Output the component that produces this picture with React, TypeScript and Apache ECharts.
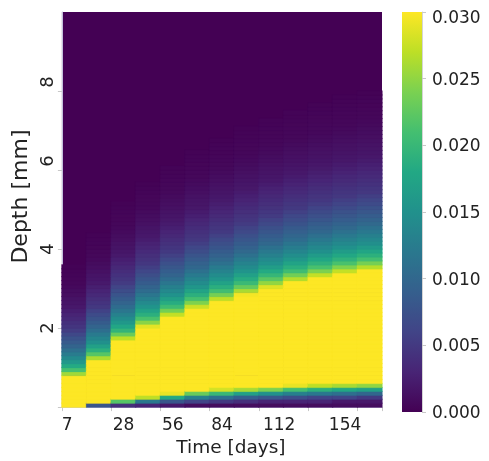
import { useEffect, useRef } from "react";
import * as echarts from "echarts";

// Time categories (one heatmap column each)
const TIME_DAYS = ["7", "14", "28", "42", "56", "70", "84", "98", "112", "126", "140", "154", "168"];
const TIME_LABELS_SHOWN = ["7", "28", "56", "84", "112", "154"];
const DEPTH_TICKS = [2, 4, 6, 8];
const DEPTH_TICK_MARKS = [0, 2, 4, 6, 8];
const DEPTH_STEP_MM = 0.1;
const DEPTH_ROW_COUNT = 100; // 0 .. 10 mm
const CONC_MIN = 0;
const CONC_MAX = 0.03;
const CONC_TICK_STEP = 0.005;

// Concentration profiles per time column, from depth 0 upward in 0.1 mm rows.
// Rows above the listed ones are at the zero colour.
const C_D7 = [
  0.03, 0.03, 0.03, 0.03, 0.03, 0.03, 0.03, 0.03,
  0.0257, 0.0211, 0.0182, 0.0159, 0.0141, 0.0125, 0.011, 0.0096, 0.0085, 0.0075,
  0.0064, 0.0053, 0.0046, 0.0041, 0.0035, 0.003, 0.0025, 0.002, 0.0017, 0.0015,
  0.0012, 0.001, 0.0007, 0.00055, 0.00046, 0.00037, 0.00028, 0.00019,
];
const C_D14 = [
  0.008,
  0.03, 0.03, 0.03, 0.03, 0.03, 0.03, 0.03, 0.03, 0.03, 0.03, 0.03,
  0.0262, 0.022, 0.019, 0.0169, 0.0149, 0.0136, 0.0122, 0.0108, 0.0096, 0.0087,
  0.0077, 0.0068, 0.0058, 0.0049, 0.00445, 0.004, 0.0035, 0.003, 0.00255, 0.00207,
  0.0018, 0.0016, 0.00137, 0.00115, 0.00092, 0.0007, 0.00056, 0.00048, 0.0004,
  0.00032, 0.00024, 0.00016,
];
const C_D28 = [
  0.004, 0.022,
  0.03, 0.03, 0.03, 0.03, 0.03, 0.03, 0.03, 0.03, 0.03, 0.03, 0.03, 0.03, 0.03, 0.03, 0.03,
  0.027, 0.023, 0.0196, 0.0177, 0.0159, 0.0144, 0.0131, 0.0118, 0.0106, 0.0096,
  0.0087, 0.0078, 0.007, 0.0061, 0.0052, 0.0047, 0.00425, 0.0038, 0.0034, 0.00295,
  0.0025, 0.00207, 0.00183, 0.00162, 0.00142, 0.00122, 0.001, 0.0008, 0.0006,
  0.00053, 0.00046, 0.00039, 0.00032, 0.00025, 0.00017,
];
const C_D42 = [
  0.003, 0.012, 0.027,
  0.03, 0.03, 0.03, 0.03, 0.03, 0.03, 0.03, 0.03, 0.03, 0.03, 0.03, 0.03, 0.03, 0.03, 0.03, 0.03, 0.03,
  0.0288, 0.0247, 0.0212, 0.0189, 0.0172, 0.0154, 0.0141, 0.0129, 0.0117, 0.0105,
  0.0096, 0.0087, 0.0079, 0.0071, 0.0063, 0.0055, 0.0048, 0.0044, 0.004, 0.0036,
  0.0032, 0.0028, 0.00235, 0.00198, 0.00179, 0.0016, 0.0014, 0.0012, 0.00102,
  0.00083, 0.00064, 0.00055, 0.00048, 0.00041, 0.00034, 0.00027, 0.0002,
];
const C_D56 = [
  0.002, 0.008, 0.018, 0.029,
  0.03, 0.03, 0.03, 0.03, 0.03, 0.03, 0.03, 0.03, 0.03, 0.03, 0.03, 0.03, 0.03, 0.03, 0.03, 0.03, 0.03, 0.03, 0.03,
  0.0273, 0.0236, 0.0205, 0.0185, 0.0168, 0.0151, 0.014, 0.0129, 0.0117, 0.0106,
  0.0096, 0.0089, 0.0081, 0.0073, 0.0065, 0.0057, 0.005, 0.0046, 0.0042, 0.0038,
  0.0034, 0.003, 0.0026, 0.00225, 0.00193, 0.00175, 0.00156, 0.00138, 0.0012,
  0.00102, 0.00083, 0.00065, 0.00056, 0.00049, 0.00042, 0.00036, 0.0003, 0.00023,
];
const C_D70 = [
  0.001, 0.006, 0.013, 0.023,
  0.03, 0.03, 0.03, 0.03, 0.03, 0.03, 0.03, 0.03, 0.03, 0.03, 0.03, 0.03, 0.03, 0.03, 0.03, 0.03, 0.03, 0.03, 0.03, 0.03, 0.03,
  0.0277, 0.0242, 0.021, 0.0189, 0.0173, 0.0156, 0.0144, 0.0133, 0.0122, 0.0111,
  0.01, 0.0093, 0.0085, 0.0078, 0.007, 0.0063, 0.0055, 0.0049, 0.0045, 0.0041,
  0.00375, 0.0034, 0.003, 0.0026, 0.00225, 0.00195, 0.00177, 0.0016, 0.00142,
  0.00124, 0.00107, 0.00089, 0.00072, 0.00058, 0.00052, 0.00045, 0.00039, 0.00033,
  0.00027, 0.0002,
];
const C_D84 = [
  0.001, 0.005, 0.011, 0.02, 0.028,
  0.03, 0.03, 0.03, 0.03, 0.03, 0.03, 0.03, 0.03, 0.03, 0.03, 0.03, 0.03, 0.03, 0.03, 0.03, 0.03, 0.03, 0.03, 0.03, 0.03, 0.03, 0.03,
  0.0271, 0.0237, 0.0207, 0.0188, 0.0172, 0.0155, 0.0144, 0.0133, 0.0123, 0.0112,
  0.0102, 0.0094, 0.0087, 0.0079, 0.0072, 0.0065, 0.0057, 0.005, 0.00465, 0.0043,
  0.0039, 0.00355, 0.0032, 0.0028, 0.00245, 0.0021, 0.00187, 0.0017, 0.00153,
  0.00136, 0.00119, 0.00102, 0.00085, 0.00068, 0.00057, 0.00051, 0.00044, 0.00038,
  0.00032, 0.00026, 0.0002,
];
const C_D98 = [
  0.001, 0.004, 0.009, 0.017, 0.026,
  0.03, 0.03, 0.03, 0.03, 0.03, 0.03, 0.03, 0.03, 0.03, 0.03, 0.03, 0.03, 0.03, 0.03, 0.03, 0.03, 0.03, 0.03, 0.03, 0.03, 0.03, 0.03, 0.03,
  0.0296, 0.0261, 0.0229, 0.0202, 0.0185, 0.0169, 0.0154, 0.0143, 0.0133, 0.0122,
  0.0112, 0.0102, 0.0094, 0.0087, 0.008, 0.0073, 0.0066, 0.0059, 0.0052, 0.0047,
  0.0044, 0.004, 0.0037, 0.0033, 0.00295, 0.0026, 0.00225, 0.00195, 0.00178,
  0.00162, 0.00145, 0.00129, 0.00112, 0.00095, 0.00079, 0.00063, 0.00055, 0.00049,
  0.00043, 0.00037, 0.00031, 0.00026, 0.0002,
];
const C_D112 = [
  0.001, 0.003, 0.008, 0.015, 0.024,
  0.03, 0.03, 0.03, 0.03, 0.03, 0.03, 0.03, 0.03, 0.03, 0.03, 0.03, 0.03, 0.03, 0.03, 0.03, 0.03, 0.03, 0.03, 0.03, 0.03, 0.03, 0.03, 0.03, 0.03, 0.03,
  0.0286, 0.0251, 0.0222, 0.0198, 0.0182, 0.0166, 0.0151, 0.0141, 0.0131, 0.0121,
  0.0111, 0.0101, 0.0094, 0.0087, 0.008, 0.0073, 0.0066, 0.0059, 0.0052, 0.00475,
  0.0044, 0.00405, 0.0037, 0.0034, 0.003, 0.0027, 0.00235, 0.002, 0.00184,
  0.00167, 0.0015, 0.00134, 0.00119, 0.00103, 0.00086, 0.0007, 0.00058, 0.00052,
  0.00046, 0.0004, 0.00035, 0.00029, 0.00023,
];
const C_D126 = [
  0.001, 0.003, 0.007, 0.013, 0.021, 0.029,
  0.03, 0.03, 0.03, 0.03, 0.03, 0.03, 0.03, 0.03, 0.03, 0.03, 0.03, 0.03, 0.03, 0.03, 0.03, 0.03, 0.03, 0.03, 0.03, 0.03, 0.03, 0.03, 0.03, 0.03, 0.03, 0.03,
  0.0266, 0.0235, 0.0206, 0.0188, 0.0173, 0.0158, 0.0146, 0.0136, 0.0126, 0.0116,
  0.0106, 0.0098, 0.0091, 0.0084, 0.0077, 0.007, 0.0064, 0.0057, 0.005, 0.00465,
  0.0043, 0.00395, 0.0036, 0.0033, 0.00295, 0.0026, 0.00225, 0.00196, 0.0018,
  0.00164, 0.00148, 0.00132, 0.00116, 0.001, 0.00084, 0.00068, 0.00057, 0.00051,
  0.00045, 0.0004, 0.00034, 0.00029, 0.00023,
];
const C_D140 = [
  0.001, 0.003, 0.006, 0.012, 0.019, 0.027,
  0.03, 0.03, 0.03, 0.03, 0.03, 0.03, 0.03, 0.03, 0.03, 0.03, 0.03, 0.03, 0.03, 0.03, 0.03, 0.03, 0.03, 0.03, 0.03, 0.03, 0.03, 0.03, 0.03, 0.03, 0.03, 0.03, 0.03,
  0.0273, 0.0241, 0.0212, 0.0192, 0.0178, 0.0163, 0.0149, 0.0139, 0.013, 0.012,
  0.011, 0.01, 0.0094, 0.0087, 0.008, 0.0073, 0.00665, 0.006, 0.0053, 0.0048,
  0.0045, 0.0041, 0.0038, 0.00345, 0.0031, 0.0028, 0.00245, 0.0021, 0.0019,
  0.00174, 0.00158, 0.00142, 0.00126, 0.0011, 0.00095, 0.00079, 0.00063, 0.00056,
  0.0005, 0.00044, 0.00039, 0.00033, 0.00028, 0.00022,
];
const C_D154 = [
  0.001, 0.002, 0.006, 0.011, 0.018, 0.026,
  0.03, 0.03, 0.03, 0.03, 0.03, 0.03, 0.03, 0.03, 0.03, 0.03, 0.03, 0.03, 0.03, 0.03, 0.03, 0.03, 0.03, 0.03, 0.03, 0.03, 0.03, 0.03, 0.03, 0.03, 0.03, 0.03, 0.03, 0.03,
  0.0273, 0.0242, 0.0213, 0.0192, 0.0179, 0.0164, 0.015, 0.014, 0.0131, 0.0121,
  0.0111, 0.0102, 0.0095, 0.0088, 0.0081, 0.0075, 0.0068, 0.0061, 0.0055, 0.0049,
  0.00455, 0.00425, 0.0039, 0.00355, 0.00325, 0.0029, 0.00255, 0.00225, 0.00195,
  0.0018, 0.00165, 0.00148, 0.00133, 0.00118, 0.00102, 0.00086, 0.00071, 0.00058,
  0.00053, 0.00047, 0.00042, 0.00036, 0.00031, 0.00025, 0.0002,
];
const C_D168 = [
  0.001, 0.002, 0.005, 0.01, 0.017, 0.025,
  0.03, 0.03, 0.03, 0.03, 0.03, 0.03, 0.03, 0.03, 0.03, 0.03, 0.03, 0.03, 0.03, 0.03, 0.03, 0.03, 0.03, 0.03, 0.03, 0.03, 0.03, 0.03, 0.03, 0.03, 0.03, 0.03, 0.03, 0.03, 0.03,
  0.0267, 0.0237, 0.0209, 0.019, 0.0176, 0.0162, 0.0148, 0.0139, 0.013, 0.012,
  0.0111, 0.0102, 0.0095, 0.0088, 0.0081, 0.0075, 0.0068, 0.0062, 0.0055, 0.0049,
  0.0046, 0.00425, 0.00395, 0.0036, 0.0033, 0.00295, 0.0026, 0.0023, 0.002,
  0.00183, 0.00168, 0.00152, 0.00137, 0.00121, 0.00106, 0.0009, 0.00075, 0.0006,
  0.00055, 0.00049, 0.00043, 0.00038, 0.00033, 0.00027, 0.00021,
];

const PROFILES = [
  C_D7, C_D14, C_D28, C_D42, C_D56, C_D70, C_D84,
  C_D98, C_D112, C_D126, C_D140, C_D154, C_D168,
];

const VIRIDIS = [
  "#440154", "#482475", "#414487", "#355f8d", "#2a788e", "#21918c",
  "#22a884", "#44bf70", "#7ad151", "#bddf26", "#fde725",
];

const FONT = "DejaVu Sans";
const TEXT = "#222222";
const AXIS_LINE = "#c4c0dc";
const TICK = "#c8c8c8";

export default function App() {
  const ref = useRef<HTMLDivElement>(null);

  useEffect(() => {
    if (!ref.current) return;
    const chart = echarts.init(ref.current, null, { renderer: "svg" });

    const depthRows = Array.from({ length: DEPTH_ROW_COUNT }, (_, i) =>
      ((i + 0.5) * DEPTH_STEP_MM).toFixed(2)
    );
    const heatData: number[][] = [];
    PROFILES.forEach((col, x) => {
      col.forEach((v, y) => heatData.push([x, y, v]));
    });

    const labelFont = { fontSize: 17, color: TEXT, fontFamily: FONT };

    const option: any = {
      animation: false,
      textStyle: { fontFamily: FONT },
      grid: [
        {
          left: 57, top: 12, width: 325, height: 400,
          show: true, backgroundColor: VIRIDIS[0], borderWidth: 0,
        },
        { left: 402, top: 12, width: 20, height: 400 },
      ],
      xAxis: [
        {
          type: "category",
          gridIndex: 0,
          data: TIME_DAYS,
          name: "Time [days]",
          nameLocation: "middle",
          nameGap: 25,
          nameTextStyle: { fontSize: 18.5, color: TEXT, fontFamily: FONT, padding: [0, 0, 0, 18] },
          axisLine: { show: true, lineStyle: { color: AXIS_LINE } },
          axisTick: { show: true, interval: 1, length: 4, lineStyle: { color: TICK } },
          axisLabel: {
            interval: (_i: number, v: string) => TIME_LABELS_SHOWN.includes(v),
            formatter: (v: string) => (v === "7" ? "{l|7}" : v === "112" ? "{r|112}" : v),
            rich: {
              l: { ...labelFont, padding: [0, 14, 0, 0] },
              r: { ...labelFont, padding: [0, 0, 0, 16] },
            },
            ...labelFont,
            margin: 8,
          },
          splitLine: { show: false },
        },
        { type: "category", gridIndex: 1, data: [""], show: false },
      ],
      yAxis: [
        { type: "category", gridIndex: 0, data: depthRows, show: false },
        {
          type: "value",
          gridIndex: 0,
          position: "left",
          min: 0,
          max: 10,
          interval: 2,
          name: "Depth [mm]",
          nameLocation: "middle",
          nameGap: 28,
          nameRotate: 90,
          nameTextStyle: { fontSize: 22, color: TEXT, fontFamily: FONT, padding: [0, 0, 0, 26] },
          axisLine: { show: true, lineStyle: { color: AXIS_LINE } },
          axisTick: {
            show: true, length: 4, customValues: DEPTH_TICK_MARKS,
            lineStyle: { color: TICK },
          },
          axisLabel: {
            customValues: DEPTH_TICKS,
            formatter: (v: number) =>
              !DEPTH_TICKS.includes(v) ? "" : v >= 6 ? `{u|${v}}` : String(v),
            rich: { u: { fontSize: 18, color: TEXT, fontFamily: FONT, padding: [0, 0, 0, 18] } },
            rotate: 90,
            fontSize: 18,
            color: TEXT,
            fontFamily: FONT,
            margin: 6,
          },
          splitLine: { show: false },
        },
        {
          type: "value",
          gridIndex: 1,
          position: "right",
          min: CONC_MIN,
          max: CONC_MAX,
          interval: CONC_TICK_STEP,
          axisLine: { show: true, lineStyle: { color: "#d4d4d4" } },
          axisTick: { show: true, length: 4, lineStyle: { color: TICK } },
          axisLabel: {
            formatter: (v: number) =>
              v >= CONC_MAX - 1e-9 ? `{t|${v.toFixed(3)}}` : v.toFixed(3),
            rich: { t: { ...labelFont, padding: [10, 0, 0, 0] } },
            ...labelFont,
            margin: 10,
          },
          splitLine: { show: false },
        },
      ],
      visualMap: {
        type: "continuous",
        min: CONC_MIN,
        max: CONC_MAX,
        dimension: 2,
        seriesIndex: 0,
        show: false,
        inRange: { color: VIRIDIS },
      },
      series: [
        {
          type: "custom",
          xAxisIndex: 0,
          yAxisIndex: 0,
          data: heatData,
          encode: { x: 0, y: 1 },
          silent: true,
          renderItem: (_params: any, api: any) => {
            const c = api.coord([api.value(0), api.value(1)]);
            const s = api.size([1, 1]);
            const color = api.visual("color");
            return {
              type: "rect",
              shape: {
                x: c[0] - s[0] / 2 - 0.35,
                y: c[1] - s[1] / 2 - 0.35,
                width: s[0] + 0.7,
                height: s[1] + 0.7,
              },
              style: { fill: color, stroke: color, lineWidth: 0.3 },
            };
          },
        },
        {
          type: "bar",
          xAxisIndex: 1,
          yAxisIndex: 2,
          data: [CONC_MAX],
          barWidth: "100%",
          silent: true,
          itemStyle: {
            color: new echarts.graphic.LinearGradient(
              0, 1, 0, 0,
              VIRIDIS.map((c, i) => ({ offset: i / (VIRIDIS.length - 1), color: c }))
            ),
          },
        },
      ],
    };

    chart.setOption(option);
    return () => chart.dispose();
  }, []);

  return (
    <div
      ref={ref}
      style={{ position: "fixed", left: 0, top: 0, width: 489, height: 461 }}
    />
  );
}
